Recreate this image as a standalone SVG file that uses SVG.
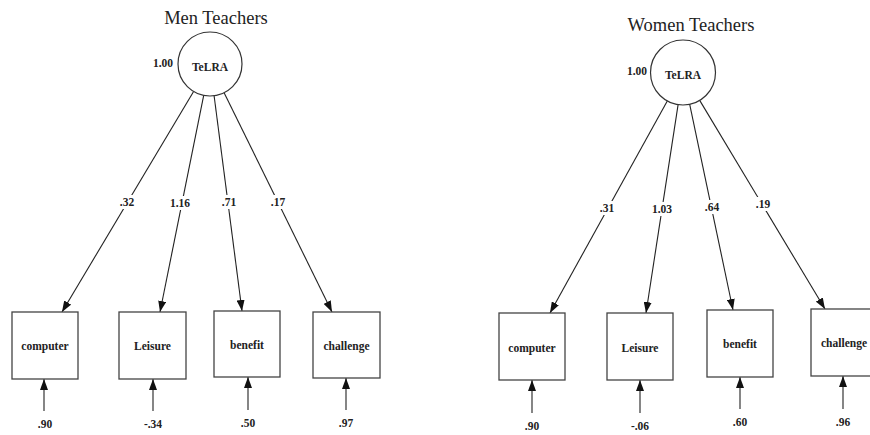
<svg xmlns="http://www.w3.org/2000/svg" width="870" height="435" viewBox="0 0 870 435">
<defs>
<marker id="ah" viewBox="0 0 11 8" refX="11" refY="4" markerWidth="11" markerHeight="8" markerUnits="userSpaceOnUse" orient="auto">
<path d="M0,0 L11,4 L0,8 Z" fill="#111"/>
</marker>
</defs>
<style>
.title{font-family:"Liberation Serif","Times New Roman",serif;font-size:18.5px;fill:#222;text-anchor:middle}
.lbl{font-family:"Liberation Serif","Times New Roman",serif;font-size:11.5px;font-weight:bold;fill:#222;text-anchor:middle}
.box{fill:#fff;stroke:#444;stroke-width:1.3}
.circ{fill:#fff;stroke:#333;stroke-width:1.2}
.ln{stroke:#222;stroke-width:1.1;fill:none;marker-end:url(#ah)}
.bg{fill:#fff}
</style>
<rect width="870" height="435" fill="#fff"/>
<text class="title" x="216" y="24">Men Teachers</text>
<text class="title" x="691" y="31">Women Teachers</text>

<g id="connectors">
<line class="ln" x1="193.6" y1="91.5" x2="62" y2="312"/>
<line class="ln" x1="203.7" y1="95.4" x2="160" y2="312"/>
<line class="ln" x1="214.1" y1="95.7" x2="242" y2="311"/>
<line class="ln" x1="224.1" y1="92.7" x2="332" y2="312"/>
<line class="ln" x1="44" y1="411" x2="44" y2="379"/>
<line class="ln" x1="153" y1="411" x2="153" y2="379"/>
<line class="ln" x1="248" y1="410" x2="248" y2="377"/>
<line class="ln" x1="346" y1="410" x2="346" y2="378"/>
<line class="ln" x1="667.3" y1="100.9" x2="550" y2="313"/>
<line class="ln" x1="678.1" y1="104.6" x2="646" y2="313"/>
<line class="ln" x1="689.7" y1="104.3" x2="733" y2="310"/>
<line class="ln" x1="699.7" y1="100.4" x2="825" y2="309"/>
<line class="ln" x1="532" y1="413" x2="532" y2="380"/>
<line class="ln" x1="640" y1="413" x2="640" y2="380"/>
<line class="ln" x1="740" y1="409" x2="740" y2="377"/>
<line class="ln" x1="843" y1="409" x2="843" y2="376"/>
<rect class="bg" x="117" y="195" width="20" height="14"/>
<rect class="bg" x="167" y="196" width="26" height="14"/>
<rect class="bg" x="219" y="195" width="20" height="14"/>
<rect class="bg" x="268" y="195" width="20" height="14"/>
<rect class="bg" x="597" y="201" width="20" height="14"/>
<rect class="bg" x="649" y="202" width="26" height="14"/>
<rect class="bg" x="702" y="200" width="20" height="14"/>
<rect class="bg" x="753" y="197" width="20" height="14"/>
<text class="lbl" x="127" y="206">.32</text>
<text class="lbl" x="180" y="207">1.16</text>
<text class="lbl" x="229" y="206">.71</text>
<text class="lbl" x="278" y="206">.17</text>
<text class="lbl" x="607" y="212">.31</text>
<text class="lbl" x="662" y="213">1.03</text>
<text class="lbl" x="712" y="211">.64</text>
<text class="lbl" x="763" y="208">.19</text>
</g>

<g id="men-telra">
<circle class="circ" cx="210" cy="64" r="32"/>
<text class="lbl" x="210" y="71">TeLRA</text>
<text class="lbl" x="163" y="67">1.00</text>
</g>
<g id="men-computer">
<rect class="box" x="12" y="312" width="66" height="67"/>
<text class="lbl" x="45" y="350">computer</text>
<text class="lbl" x="45" y="428">.90</text>
</g>
<g id="men-leisure">
<rect class="box" x="119" y="312" width="67" height="67"/>
<text class="lbl" x="152.5" y="350">Leisure</text>
<text class="lbl" x="153" y="428">-.34</text>
</g>
<g id="men-benefit">
<rect class="box" x="214" y="311" width="66" height="66"/>
<text class="lbl" x="247" y="349">benefit</text>
<text class="lbl" x="248" y="427">.50</text>
</g>
<g id="men-challenge">
<rect class="box" x="313" y="312" width="67" height="66"/>
<text class="lbl" x="346.5" y="350">challenge</text>
<text class="lbl" x="346" y="427">.97</text>
</g>

<g id="women-telra">
<circle class="circ" cx="683" cy="72.5" r="32.5"/>
<text class="lbl" x="683" y="79">TeLRA</text>
<text class="lbl" x="637" y="75">1.00</text>
</g>
<g id="women-computer">
<rect class="box" x="499" y="313" width="66" height="67"/>
<text class="lbl" x="532" y="352">computer</text>
<text class="lbl" x="532" y="430">.90</text>
</g>
<g id="women-leisure">
<rect class="box" x="607" y="313" width="66" height="67"/>
<text class="lbl" x="640" y="352">Leisure</text>
<text class="lbl" x="640" y="430">-.06</text>
</g>
<g id="women-benefit">
<rect class="box" x="707" y="310" width="66" height="67"/>
<text class="lbl" x="740" y="348">benefit</text>
<text class="lbl" x="740" y="426">.60</text>
</g>
<g id="women-challenge">
<rect class="box" x="811" y="309" width="66" height="67"/>
<text class="lbl" x="844" y="347">challenge</text>
<text class="lbl" x="843" y="426">.96</text>
</g>
</svg>
